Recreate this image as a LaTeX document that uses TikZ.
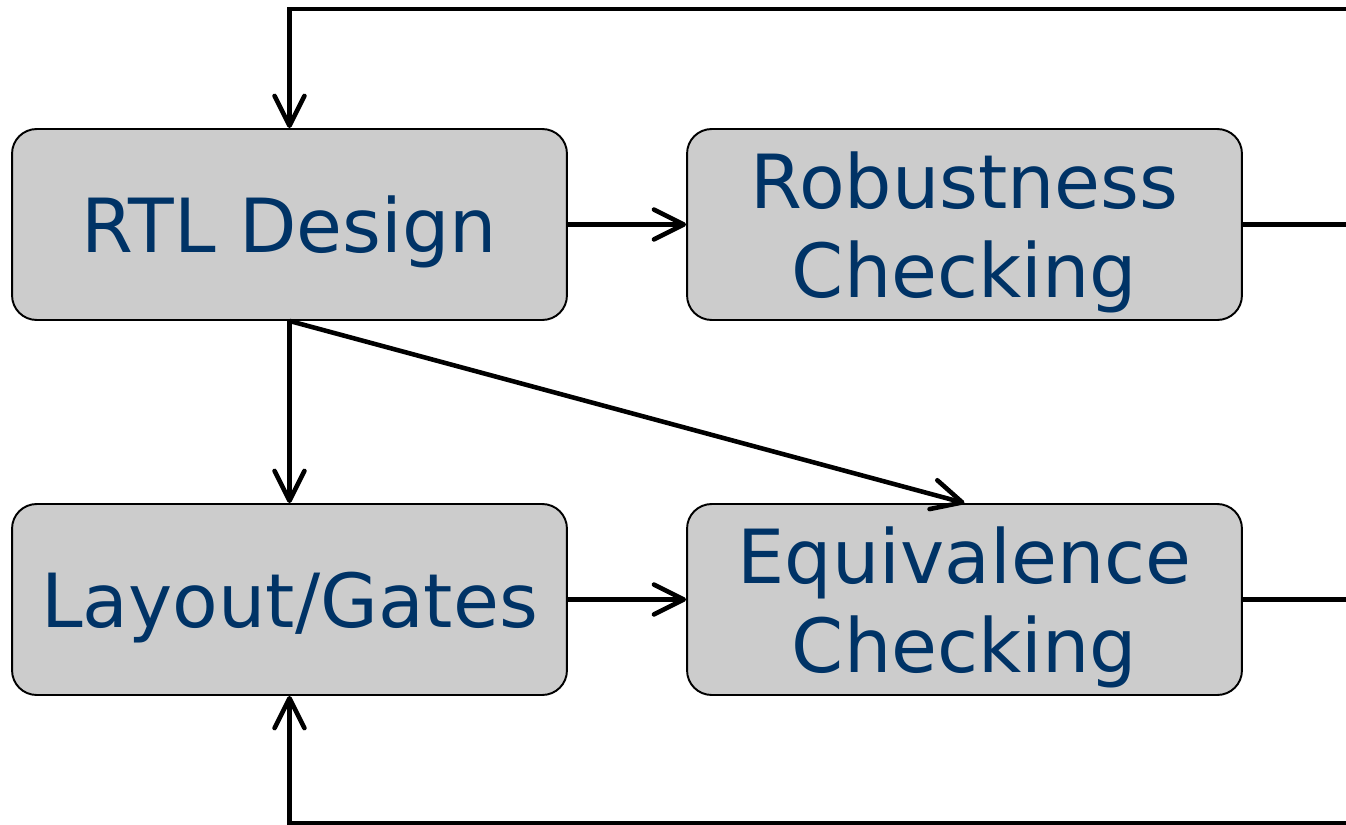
\documentclass[tikz,border=0pt]{standalone}
\usepackage{fontspec}
\setmainfont{DejaVu Sans}
\usetikzlibrary{arrows.meta}
\definecolor{boxgray}{HTML}{CCCCCC}
\definecolor{textblue}{HTML}{003366}

\begin{document}
\begin{tikzpicture}[x=0.02cm, y=-0.02cm,
    flowbox/.style = {draw, line width=1.1pt, fill=boxgray, rounded corners=14pt,
      minimum width=11.1cm, minimum height=3.82cm, inner sep=0pt,
      align=center, text=textblue, text depth=-4pt,
      font=\fontsize{42.5}{51}\selectfont},
    flow/.style = {line width=2.6pt,
      -{Straight Barb[length=17pt, width=17pt, line width=2.6pt, round]}},
    plain/.style = {line width=2.6pt}]
    \useasboundingbox (0, 0) rectangle (1346, 825);
    \clip (0, 0) rectangle (1346, 825);
    \node[flowbox] (rtl design) at (289.5, 224.5) {RTL Design};
    \node[flowbox] (robustness) at (964.5, 224.5) {Robustness \\ Checking};
    \node[flowbox] (layout gates) at (289.5, 599.5) {Layout/Gates};
    \node[flowbox] (equivalence) at (964.5, 599.5) {Equivalence \\ Checking};
    \draw[flow] (rtl design) -- (robustness);
    \draw[flow] (layout gates) -- (equivalence);
    \draw[flow] (rtl design.south) -- (layout gates.north);
    \draw[flow] (rtl design.south) -- (equivalence.north);
    % feedback loops, closed off the right edge
    \coordinate (top turn) at (1400, 9);
    \coordinate (bottom turn) at (1400, 823);
    \draw[plain] (robustness.east) -| (top turn);
    \draw[flow] (top turn) -| (rtl design.north);
    \draw[plain] (equivalence.east) -| (bottom turn);
    \draw[flow] (bottom turn) -| (layout gates.south);
\end{tikzpicture}
\end{document}
